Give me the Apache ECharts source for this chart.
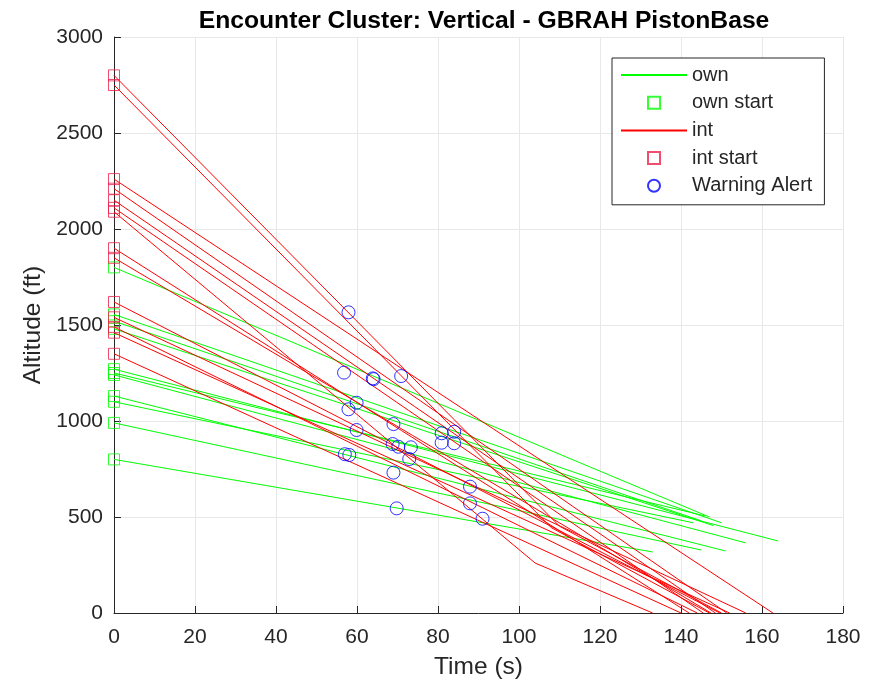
<!DOCTYPE html>
<html>
<head>
<meta charset="utf-8">
<script src="https://cdn.jsdelivr.net/npm/echarts@6/dist/echarts.min.js"></script>
<style>
html, body { margin: 0; padding: 0; background: #ffffff; }
#chart { width: 882px; height: 688px; }
</style>
</head>
<body>
<div id="chart"></div>
<script>
// Own-aircraft trajectories: [time (s), altitude (ft)] vertices
const ownTracks = [
  [[0, 1800], [147, 500]],
  [[0, 1555], [150, 470]],
  [[0, 1520], [145, 480]],
  [[0, 1480], [148, 455]],
  [[0, 1270], [164, 375]],
  [[0, 1250], [146, 505]],
  [[0, 1240], [156, 365]],
  [[0, 1130], [151, 323]],
  [[0, 1100], [143, 470]],
  [[0, 990], [145, 328]],
  [[0, 800], [133, 318]]
];

// Intruder trajectories: [time (s), altitude (ft)] vertices
const intTracks = [
  [[0, 2800], [110, 452], [150, 0]],
  [[0, 2750], [108, 444], [147, 0]],
  [[0, 2260], [162.7, 0]],
  [[0, 2210], [151.3, 0]],
  [[0, 2150], [148.5, 0]],
  [[0, 2110], [145.5, 0]],
  [[0, 2090], [104, 260], [133, 0]],
  [[0, 1900], [142, 0]],
  [[0, 1850], [147.4, 0]],
  [[0, 1620], [149.6, 0]],
  [[0, 1540], [156, 0]],
  [[0, 1490], [144, 0]],
  [[0, 1460], [152, 0]],
  [[0, 1350], [140, 0]]
];

// Warning alert positions
const alertTime = [57.9, 56.8, 63.9, 64.1, 70.9, 59.9, 57.9, 69, 59.9, 80.9, 84, 80.9, 84, 68.8, 70.2, 73.3, 72.9, 57, 58.1, 69, 87.9, 87.9, 91, 69.8];
const alertAlt  = [1566, 1252, 1222, 1218, 1234, 1095, 1061, 984, 953, 936, 944, 887, 884, 880, 866, 863, 802, 827, 823, 731, 658, 571, 491, 545];

// Axis ranges
const timeRange = [0, 180, 20];
const altRange = [0, 3000, 500];

const FONT = '"Liberation Sans", Arial, Helvetica, sans-serif';
const TXT = '#262626';
const GREEN = '#00ff00';
const RED = '#ff0000';
const RED_MARK = '#f0204a';
const BLUE = '#0000ff';
const SQUARE = 'path://M0,0 L10,0 L10,10 L0,10 Z';
const HIDDEN = { color: 'rgba(0,0,0,0)', borderColor: 'rgba(0,0,0,0)', borderWidth: 0, opacity: 0 };

const series = [];
ownTracks.forEach(function (tr) {
  series.push({
    name: 'own', type: 'line', data: tr, symbol: 'none', silent: true,
    lineStyle: { color: GREEN, width: 1 }, itemStyle: { color: GREEN }, z: 2
  });
});
series.push({
  name: 'own start', type: 'scatter', data: ownTracks.map(function (t) { return t[0]; }),
  symbol: 'rect', symbolSize: 11,
  itemStyle: { color: 'rgba(0,0,0,0)', borderColor: GREEN, borderWidth: 1 }, z: 3
});
intTracks.forEach(function (tr) {
  series.push({
    name: 'int', type: 'line', data: tr, symbol: 'none', silent: true,
    lineStyle: { color: RED, width: 1 }, itemStyle: { color: RED }, z: 4
  });
});
series.push({
  name: 'int start', type: 'scatter', data: intTracks.map(function (t) { return t[0]; }),
  symbol: 'rect', symbolSize: 11,
  itemStyle: { color: 'rgba(0,0,0,0)', borderColor: RED_MARK, borderWidth: 1 }, z: 5
});
series.push({
  name: 'Warning Alert', type: 'scatter',
  data: alertTime.map(function (t, i) { return [t, alertAlt[i]]; }),
  symbol: 'circle', symbolSize: 13,
  itemStyle: { color: 'rgba(0,0,0,0)', borderColor: BLUE, borderWidth: 1 }, z: 6
});

const chart = echarts.init(document.getElementById('chart'), null, { renderer: 'canvas' });
chart.setOption({
  animation: false,
  backgroundColor: '#ffffff',
  textStyle: { fontFamily: FONT },
  title: {
    text: 'Encounter Cluster: Vertical - GBRAH PistonBase',
    left: 479, top: 4, textAlign: 'center',
    textStyle: { fontFamily: FONT, fontSize: 24.7, fontWeight: 'bold', color: '#000000' }
  },
  legend: {
    orient: 'vertical', left: 612, top: 58,
    padding: [7, 12, 9, 8],
    backgroundColor: '#ffffff', borderColor: TXT, borderWidth: 1, borderRadius: 0,
    itemWidth: 66, itemHeight: 12, itemGap: 7.7,
    symbolKeepAspect: true,
    textStyle: { fontFamily: FONT, fontSize: 20, color: TXT, lineHeight: 20 },
    data: [
      { name: 'own', itemStyle: HIDDEN },
      { name: 'own start', icon: SQUARE },
      { name: 'int', itemStyle: HIDDEN },
      { name: 'int start', icon: SQUARE },
      { name: 'Warning Alert', icon: 'circle' }
    ]
  },
  grid: { left: 114, right: 39, top: 37, bottom: 75, containLabel: false },
  xAxis: {
    type: 'value', min: timeRange[0], max: timeRange[1], interval: timeRange[2],
    name: 'Time (s)', nameLocation: 'middle', nameGap: 42,
    nameTextStyle: { fontFamily: FONT, fontSize: 24.5, color: TXT },
    axisLine: { lineStyle: { color: TXT, width: 1 } },
    axisTick: { inside: true, length: 7, lineStyle: { color: TXT } },
    axisLabel: { fontFamily: FONT, fontSize: 21, color: TXT, margin: 14 },
    splitLine: { show: true, lineStyle: { color: '#e8e8e8', width: 1 } }
  },
  yAxis: {
    type: 'value', min: altRange[0], max: altRange[1], interval: altRange[2],
    name: 'Altitude (ft)', nameLocation: 'middle', nameGap: 58,
    nameTextStyle: { fontFamily: FONT, fontSize: 24.5, color: TXT },
    axisLine: { show: true, lineStyle: { color: TXT, width: 1 } },
    axisTick: { show: true, inside: true, length: 7, lineStyle: { color: TXT } },
    axisLabel: {
      fontFamily: FONT, fontSize: 21, color: TXT, margin: 11,
      formatter: function (v) { return String(v); }
    },
    splitLine: { show: true, lineStyle: { color: '#e8e8e8', width: 1 } }
  },
  series: series
});
</script>
</body>
</html>
